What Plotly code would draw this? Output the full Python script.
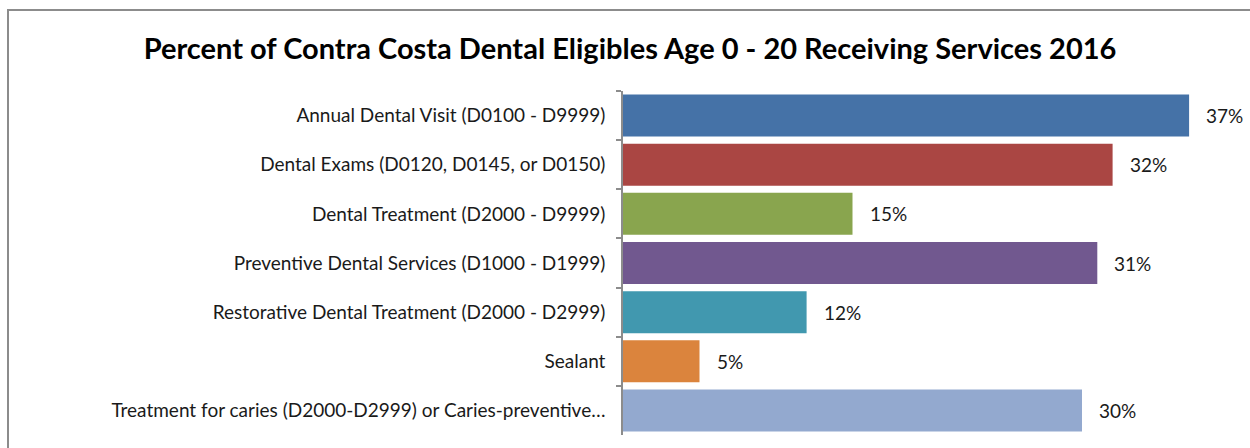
import plotly.graph_objects as go

# Dental service categories and share of eligibles (percent)
categories = [
    "Annual Dental Visit (D0100 - D9999)",
    "Dental Exams (D0120, D0145, or D0150)",
    "Dental Treatment (D2000 - D9999)",
    "Preventive Dental Services (D1000 - D1999)",
    "Restorative Dental Treatment (D2000 - D2999)",
    "Sealant",
    "Treatment for caries (D2000-D2999) or Caries-preventive\u2026",
]
percents = [37, 32, 15, 31, 12, 5, 30]
bar_colors = ["#4572A7", "#AA4643", "#89A54E", "#71588F", "#4198AF", "#DB843D", "#93A9CF"]

W, H = 1250, 448
ML, MR, MT, MB = 623, 15, 91, 13
plot_w = W - ML - MR
plot_h = H - MT - MB

FONT = "Lato"

fig = go.Figure()
fig.add_trace(go.Bar(
    x=percents,
    y=categories,
    orientation="h",
    marker=dict(color=bar_colors, line=dict(width=0)),
    hoverinfo="skip",
))

# value labels beside each bar
for cat, val in zip(categories, percents):
    fig.add_annotation(
        x=val, y=cat, xref="x", yref="y",
        text=f"{val}%", showarrow=False,
        xanchor="left", yanchor="middle", xshift=15,
        font=dict(family=FONT, size=19, color="#1a1a1a"),
    )

# outer chart frame
fig.add_shape(
    type="rect", xref="paper", yref="paper",
    x0=(8 - ML) / plot_w, x1=(W + 20 - ML) / plot_w,
    y0=(H - MB - (H + 20)) / plot_h, y1=(H - MB - 10) / plot_h,
    line=dict(color="#8c8c8c", width=2), fillcolor="rgba(0,0,0,0)",
    layer="below",
)

fig.update_layout(
    width=W, height=H,
    margin=dict(l=ML, r=MR, t=MT, b=MB, pad=0),
    paper_bgcolor="white", plot_bgcolor="white",
    bargap=0.145,
    showlegend=False,
    title=dict(
        text="<b>Percent of Contra Costa Dental Eligibles Age 0 - 20 Receiving Services 2016</b>",
        x=630 / W, xanchor="center", xref="container",
        y=1 - 49 / H, yanchor="middle", yref="container",
        font=dict(family=FONT, size=29, color="black"),
    ),
    xaxis=dict(
        range=[0, 40], visible=False, showgrid=False, zeroline=False, fixedrange=True,
    ),
    yaxis=dict(
        autorange="reversed", type="category",
        showline=True, linecolor="#8c8c8c", linewidth=1.5,
        ticks="outside", tickson="boundaries", ticklen=5, tickcolor="#8c8c8c", tickwidth=1.5,
        ticklabelstandoff=12,
        tickfont=dict(family=FONT, size=19, color="#1a1a1a"),
        showgrid=False, zeroline=False,
    ),
)

fig.write_html("out.html")
